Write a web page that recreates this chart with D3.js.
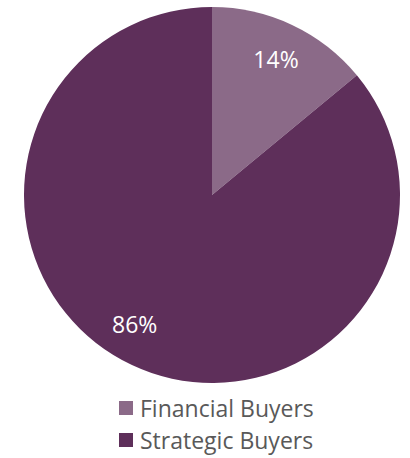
<!DOCTYPE html>
<html><head><meta charset="utf-8">
<script src="https://cdn.jsdelivr.net/npm/d3@7"></script>
<style>body{margin:0;background:#fff}</style>
</head><body>
<svg id="c" width="410" height="458"></svg>
<script>
const categories = ["Financial Buyers", "Strategic Buyers"];
const values = [14, 86];
const colors = ["#8B6A88", "#5E2F5A"];

const svg = d3.select("#c");
const cx = 212, cy = 195, R = 188;
const pie = d3.pie().sort(null).value(d => d.v);
const arcs = pie(categories.map((c, i) => ({c, v: values[i], col: colors[i]})));
const arc = d3.arc().innerRadius(0).outerRadius(R);
const labelShift = [0, 0.1];
const labelPos = (d, i) => {
  const a = (d.startAngle + d.endAngle) / 2 + labelShift[i];
  const r = R * 0.8;
  return [Math.sin(a) * r, -Math.cos(a) * r];
};
const g = svg.append("g").attr("transform", `translate(${cx},${cy})`);
g.selectAll("path").data(arcs).join("path")
  .attr("d", arc).attr("fill", d => d.data.col);
g.selectAll("text").data(arcs).join("text")
  .attr("x", (d, i) => labelPos(d, i)[0])
  .attr("y", (d, i) => labelPos(d, i)[1])
  .attr("text-anchor", "middle").attr("dominant-baseline", "central")
  .attr("fill", "#fff").attr("font-family", "Open Sans").attr("font-size", 23)
  .text(d => d.data.v + "%");

const leg = svg.append("g");
const y0 = 408, dy = 32;
const items = leg.selectAll("g").data(categories).join("g")
  .attr("transform", (d, i) => `translate(119,${y0 + i * dy})`);
items.append("rect").attr("x", 0).attr("y", -7).attr("width", 14).attr("height", 14)
  .attr("fill", (d, i) => colors[i]);
items.append("text").attr("x", 21).attr("y", 0).attr("dominant-baseline", "central")
  .attr("font-family", "Open Sans").attr("font-size", 23).attr("fill", "#595959")
  .text(d => d);
</script>
</body></html>
